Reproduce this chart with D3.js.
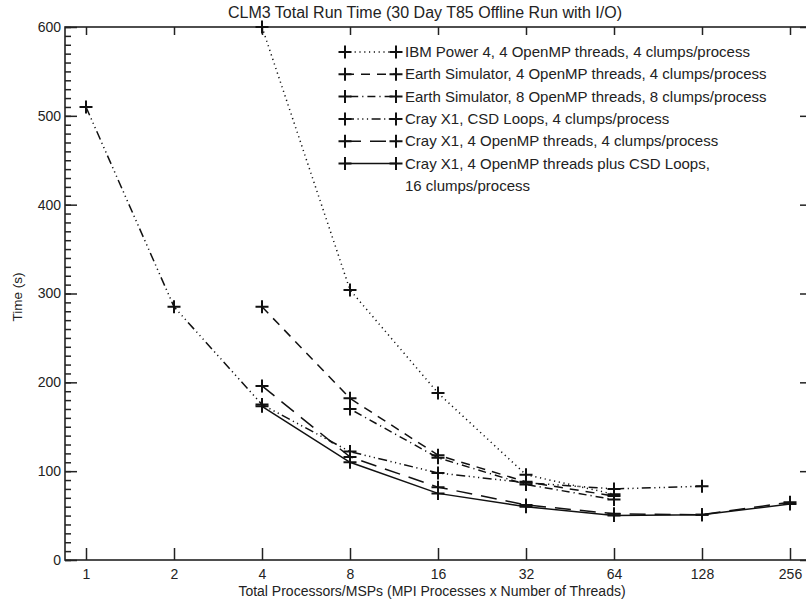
<!DOCTYPE html>
<html>
<head>
<meta charset="utf-8">
<script src="https://cdn.jsdelivr.net/npm/d3@7"></script>
<style>
  body { margin: 0; background: #fff; }
  svg { display: block; font-family: "Liberation Sans", Arial, sans-serif; }
</style>
</head>
<body>
<script>
// processors on x (log2), run time in seconds on y
const xTicks = [1, 2, 4, 8, 16, 32, 64, 128, 256];
const yTicks = [0, 100, 200, 300, 400, 500, 600];

const ibmProcs = [4, 8, 16, 32, 64];
const ibmTime = [600, 304, 188, 96, 74];

const es4Procs = [4, 8, 16, 32, 64];
const es4Time = [285, 182, 118, 88, 72];

const es8Procs = [8, 16, 32, 64];
const es8Time = [170, 115, 85, 68];

const csdProcs = [1, 2, 4, 8, 16, 32, 64, 128];
const csdTime = [510, 285, 175, 122, 98, 87, 80, 83];

const omp4Procs = [4, 8, 16, 32, 64, 128, 256];
const omp4Time = [196, 116, 82, 62, 52, 51, 65];

const combProcs = [4, 8, 16, 32, 64, 128, 256];
const combTime = [173, 110, 75, 60, 50, 51, 63];

const seriesNames = [
  ["IBM Power 4, 4 OpenMP threads, 4 clumps/process"],
  ["Earth Simulator, 4 OpenMP threads, 4 clumps/process"],
  ["Earth Simulator, 8 OpenMP threads, 8 clumps/process"],
  ["Cray X1, CSD Loops, 4 clumps/process"],
  ["Cray X1, 4 OpenMP threads, 4 clumps/process"],
  ["Cray X1, 4 OpenMP threads plus CSD Loops,", "16 clumps/process"]
];

const series = [
  { procs: ibmProcs, time: ibmTime, dash: "1.2,3.6" },
  { procs: es4Procs, time: es4Time, dash: "9,7" },
  { procs: es8Procs, time: es8Time, dash: "1.2,4,8,4" },
  { procs: csdProcs, time: csdTime, dash: "9,3.5,1.2,3.5,1.2,3.5,1.2,3.5" },
  { procs: omp4Procs, time: omp4Time, dash: "16,9" },
  { procs: combProcs, time: combTime, dash: null }
];

const W = 806, H = 602;
const mLeft = 65, mRight = 810, mTop = 27, mBottom = 560;

const svg = d3.select("body").append("svg")
  .attr("width", W)
  .attr("height", H);

const x = d3.scaleLog().base(2)
  .domain([Math.pow(2, -21 / 88), Math.pow(2, 8 + 20 / 88)])
  .range([mLeft, mRight]);
const y = d3.scaleLinear().domain([0, 600]).range([mBottom, mTop]);

// frame
svg.append("rect")
  .attr("x", mLeft).attr("y", mTop)
  .attr("width", mRight - mLeft).attr("height", mBottom - mTop)
  .attr("fill", "none").attr("stroke", "#222").attr("stroke-width", 1.6);

// axes
const xAxisB = d3.axisBottom(x).tickValues(xTicks).tickSize(-12).tickPadding(9).tickFormat(d3.format("d"));
const xAxisT = d3.axisTop(x).tickValues(xTicks).tickSize(-8).tickFormat("");
const yAxisL = d3.axisLeft(y).tickValues(yTicks).tickSize(-12).tickPadding(4).tickFormat(d3.format("d"));
const yMinor = d3.axisLeft(y).tickValues(d3.range(0, 601, 10)).tickSize(-6).tickFormat("");
const yAxisR = d3.axisRight(y).tickValues(yTicks).tickSize(-10).tickFormat("");

function styleAxis(g) {
  g.attr("font-size", 14).attr("font-family", "Liberation Sans, Arial, sans-serif");
  g.select(".domain").remove();
  g.selectAll("line").attr("stroke", "#222").attr("stroke-width", 1.5);
  g.selectAll("text").attr("fill", "#222");
}

svg.append("g").attr("transform", `translate(0,${mBottom})`).call(xAxisB).call(styleAxis);
svg.append("g").attr("transform", `translate(0,${mTop})`).call(xAxisT).call(styleAxis);
svg.append("g").attr("transform", `translate(${mLeft},0)`).call(yMinor).call(styleAxis);
svg.append("g").attr("transform", `translate(${mLeft},0)`).call(yAxisL).call(styleAxis);
svg.append("g").attr("transform", `translate(${mRight},0)`).call(yAxisR).call(styleAxis);

// titles
svg.append("text")
  .attr("x", 425).attr("y", 18)
  .attr("text-anchor", "middle")
  .attr("font-size", 16).attr("fill", "#222")
  .text("CLM3 Total Run Time (30 Day T85 Offline Run with I/O)");

svg.append("text")
  .attr("x", 432).attr("y", 596)
  .attr("text-anchor", "middle")
  .attr("font-size", 14).attr("fill", "#222")
  .text("Total Processors/MSPs (MPI Processes x Number of Threads)");

svg.append("text")
  .attr("transform", "translate(22,297) rotate(-90)")
  .attr("text-anchor", "middle")
  .attr("font-size", 13.5).attr("fill", "#222")
  .text("Time (s)");

// series
const line = d3.line().x(d => x(d[0])).y(d => y(d[1]));
const plus = 6.5;

function drawPlus(g, px, py) {
  g.append("path")
    .attr("d", `M${px - plus},${py}H${px + plus}M${px},${py - plus}V${py + plus}`)
    .attr("stroke", "#111").attr("stroke-width", 2).attr("fill", "none");
}

const plot = svg.append("g");
series.forEach(s => {
  const pts = s.procs.map((p, i) => [p, s.time[i]]);
  plot.append("path")
    .datum(pts)
    .attr("d", line)
    .attr("fill", "none")
    .attr("stroke", "#111")
    .attr("stroke-width", 1.5)
    .attr("stroke-dasharray", s.dash);
  pts.forEach(p => drawPlus(plot, x(p[0]), y(p[1])));
});

// legend
const lg = svg.append("g");
const lx0 = 345, lx1 = 396, ly0 = 52, lstep = 22.3;
seriesNames.forEach((names, i) => {
  const ly = ly0 + i * lstep;
  lg.append("line")
    .attr("x1", lx0).attr("x2", lx1).attr("y1", ly).attr("y2", ly)
    .attr("stroke", "#111").attr("stroke-width", 1.5)
    .attr("stroke-dasharray", series[i].dash);
  drawPlus(lg, lx0, ly);
  drawPlus(lg, lx1, ly);
  names.forEach((t, j) => {
    lg.append("text")
      .attr("x", 405).attr("y", ly + 5 + j * lstep)
      .attr("font-size", 15).attr("fill", "#222")
      .text(t);
  });
});
</script>
</body>
</html>
